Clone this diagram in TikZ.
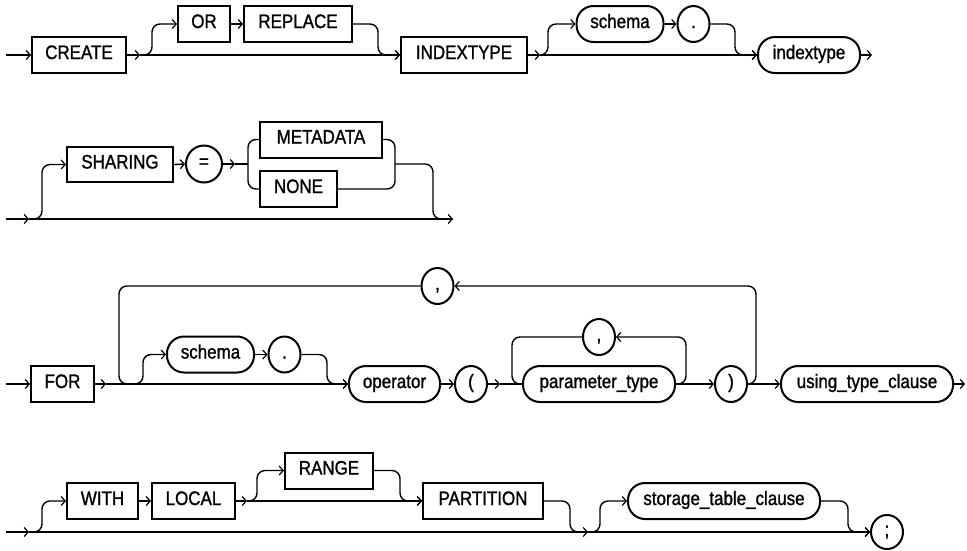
\documentclass[tikz,border=0pt]{standalone}
\usepackage{fontspec}
\setmainfont[FakeStretch=0.87,FakeBold=1.2]{Liberation Sans}
\usetikzlibrary{arrows.meta,shapes.geometric}
\begin{document}
\begin{tikzpicture}[x=1pt,y=-1pt,
  conn/.style={line width=1.4pt, rounded corners=8pt},
  arr/.style={conn, -{Straight Barb[length=4pt,width=9pt,line width=1.2pt]}},
  kw/.style={draw, line width=2pt, minimum height=36pt, inner sep=0pt,
    text height=12pt, text depth=4pt, font=\fontsize{19.5}{22}\selectfont},
  pill/.style={kw, rounded corners=17pt},
  circ/.style={kw, ellipse, minimum width=32pt, minimum height=36pt}]
\useasboundingbox (0,0) rectangle (967,550);

% ---------- row 1 ----------
\node[kw, minimum width=94pt] (create) at (79,55) {CREATE};
\node[kw, minimum width=52pt] (or) at (204,24) {OR};
\node[kw, minimum width=108pt] (replace) at (298,24) {REPLACE};
\node[kw, minimum width=126pt] (indextypekw) at (464,55) {INDEXTYPE};
\node[pill, minimum width=87pt] (schema1) at (620,24) {schema};
\node[circ] (dot1) at (693.5,24) {.};
\node[pill, minimum width=102pt] (indextype) at (809,55) {indextype};

\coordinate (s1) at (6,55);
\coordinate (j1) at (140,55);
\coordinate (j2) at (540,55);
\coordinate (e1) at (872,55);
\draw[arr] (s1) -- (create.west);
\draw[arr] (create.east) -- (j1);
\draw[arr] (j1) -- (indextypekw.west);
\draw[arr] (j1) -- (152,55) |- (or.west);
\draw[arr] (or.east) -- (replace.west);
\draw[arr] (replace.east) -| (378,55) -- (indextypekw.west);
\draw[arr] (indextypekw.east) -- (j2);
\draw[arr] (j2) -- (indextype.west);
\draw[arr] (j2) -- (548,55) |- (schema1.west);
\draw[arr] (schema1.east) -- (dot1.west);
\draw[arr] (dot1.east) -| (735,55) -- (indextype.west);
\draw[arr] (indextype.east) -- (e1);

% ---------- row 2 ----------
\node[kw, minimum width=106pt, minimum height=35pt] (sharing) at (120,164.5) {SHARING};
\node[circ, minimum width=36pt, minimum height=37pt] (eq) at (204,164) {=};
\node[kw, minimum width=122pt] (metadata) at (321,139.5) {METADATA};
\node[kw, minimum width=77pt] (none) at (298.5,189) {NONE};

\coordinate (s2) at (6,219);
\coordinate (j3) at (29,219);
\coordinate (e2) at (453,219);
\coordinate (j4) at (235,164);
\draw[arr] (s2) -- (j3);
\draw[arr] (j3) -- (e2);
\draw[arr] (j3) -- (42,219) |- (sharing.west);
\draw[arr] (sharing.east) -- (eq.west);
\draw[arr] (eq.east) -- (j4);
\draw[conn] (j4) -- (248,164);
\draw[conn] (metadata.west) -| (248,164) |- (none.west);
\draw[conn] (metadata.east) -| (395,164) |- (none.east);
\draw[conn] (395,164) -- (433,164) |- (e2);

% ---------- row 3 ----------
\node[kw, minimum width=63pt] (for) at (62.5,384) {FOR};
\node[circ] (comma1) at (437.5,286) {,};
\node[pill, minimum width=87pt] (schema2) at (210.5,354.5) {schema};
\node[circ] (dot2) at (284.5,354.5) {.};
\node[pill, minimum width=91pt] (operator) at (394.5,384) {operator};
\node[circ] (lparen) at (471,384) {(};
\node[pill, minimum width=152pt] (param) at (599,384) {parameter\_type};
\node[circ] (comma2) at (599,337) {,};
\node[circ] (rparen) at (731,384) {)};
\node[pill, minimum width=172pt] (using) at (867,384) {using\_type\_clause};

\coordinate (s3) at (6,384);
\coordinate (j5) at (106,384);
\coordinate (j5b) at (131,384);
\coordinate (j6) at (500,384);
\coordinate (e3) at (965,384);
\draw[arr] (s3) -- (for.west);
\draw[arr] (for.east) -- (j5);
\draw[arr] (j5) -- (operator.west);
\draw[conn] (comma1.west) -| (119,384) -- (j5b);
\draw[arr] (j5b) -- (143,384) |- (schema2.west);
\draw[arr] (schema2.east) -- (dot2.west);
\draw[arr] (dot2.east) -| (327,384) -- (operator.west);
\draw[arr] (operator.east) -- (lparen.west);
\draw[arr] (lparen.east) -- (j6);
\draw[conn] (j6) -- (param.west);
\draw[conn] (comma2.west) -| (512,384) -- (param.west);
\draw[arr] (param.east) -- (rparen.west);
\draw[arr] (param.east) -- (686,384) |- (comma2.east);
\draw[arr] (rparen.east) -- (using.west);
\draw[arr] (rparen.east) -- (756,384) |- (comma1.east);
\draw[arr] (using.east) -- (e3);

% ---------- row 4 ----------
\node[kw, minimum width=71pt] (with) at (102.5,501) {WITH};
\node[kw, minimum width=83pt] (local) at (193.5,501) {LOCAL};
\node[kw, minimum width=88pt] (range) at (329,470.5) {RANGE};
\node[kw, minimum width=120pt] (partition) at (483,501) {PARTITION};
\node[pill, minimum width=192pt] (storage) at (724,501) {storage\_table\_clause};
\node[circ, minimum height=34pt] (semi) at (887,532) {;};

\coordinate (s4) at (6,532);
\coordinate (j7) at (29,532);
\coordinate (j8) at (588,532);
\coordinate (j9) at (247,501);
\draw[arr] (s4) -- (j7);
\draw[arr] (j7) -- (j8);
\draw[arr] (j7) -- (42,532) |- (with.west);
\draw[arr] (with.east) -- (local.west);
\draw[arr] (local.east) -- (j9);
\draw[arr] (j9) -- (partition.west);
\draw[arr] (j9) -- (257,501) |- (range.west);
\draw[arr] (range.east) -| (400,501) -- (partition.west);
\draw[conn] (partition.east) -| (570,532) -- (j8);
\draw[arr] (j8) -- (semi.west);
\draw[arr] (j8) -- (600,532) |- (storage.west);
\draw[arr] (storage.east) -| (848,532) -- (semi.west);
\end{tikzpicture}
\end{document}
